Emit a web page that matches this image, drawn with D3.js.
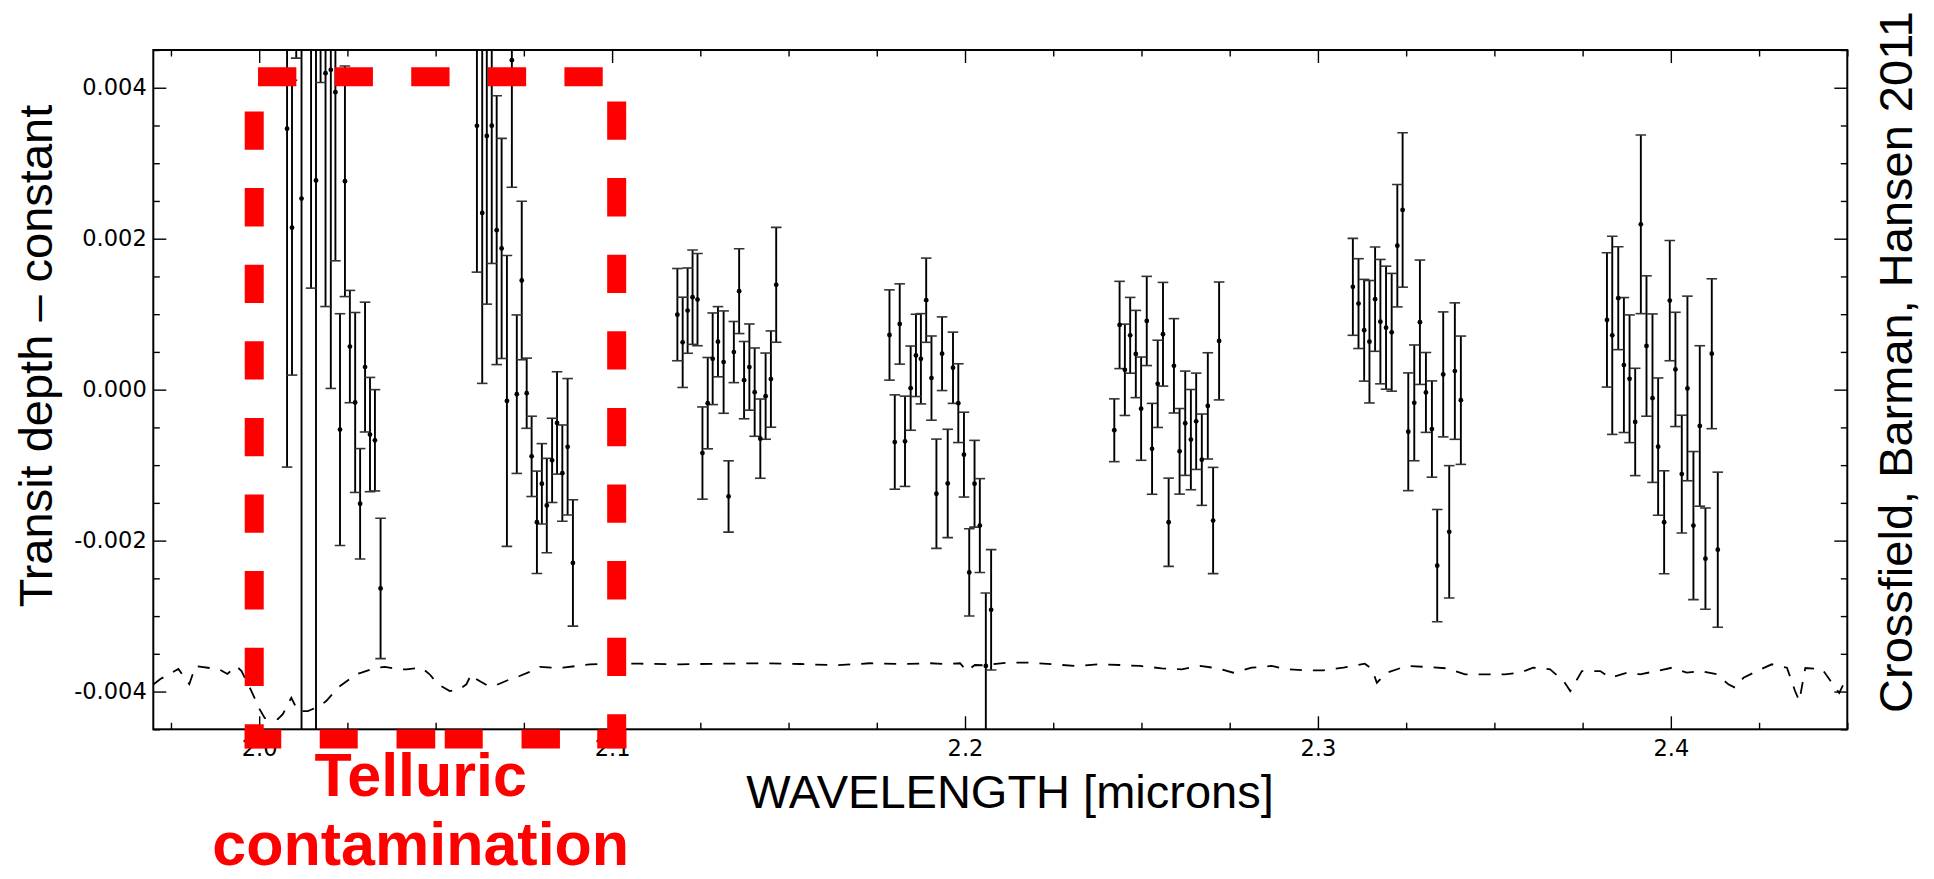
<!DOCTYPE html>
<html>
<head>
<meta charset="utf-8">
<script src="https://cdn.jsdelivr.net/npm/d3@7"></script>
<style>
  body { margin: 0; background: #fff; }
  svg { display: block; }
</style>
</head>
<body>
<svg id="chart" width="1934" height="879"></svg>
<script>
// ---- Spectral bins (wavelength in microns, transit depth minus constant, 1-sigma error) ----
const wl1 = [2.0079, 2.0093, 2.0105, 2.0120, 2.0147, 2.0161, 2.0174, 2.0188, 2.0203, 2.0216, 2.0229, 2.0243, 2.0257, 2.0272, 2.0286, 2.0300, 2.0314, 2.0328, 2.0344];
const depth1 = [0.003458, 0.002146, 0.006240, 0.002532, 0.004910, 0.002771, 0.005973, 0.004193, 0.004237, 0.003940, -0.000529, 0.002761, 0.000571, -0.000170, -0.001512, 0.000299, -0.000595, -0.000671, -0.002634];
const err1 = [0.004484, 0.001953, 0.001847, 0.007970, 0.003565, 0.007970, 0.001904, 0.003092, 0.004221, 0.002233, 0.001535, 0.001528, 0.000744, 0.001192, 0.000731, 0.000860, 0.000757, 0.000671, 0.000930];

const wl2 = [2.0617, 2.0632, 2.0645, 2.0659, 2.0673, 2.0687, 2.0702, 2.0716, 2.0730, 2.0744, 2.0758, 2.0772, 2.0787, 2.0801, 2.0815, 2.0830, 2.0844, 2.0859, 2.0874, 2.0889];
const depth2 = [0.003495, 0.002342, 0.003362, 0.003498, 0.002113, 0.001871, -0.000149, 0.004365, -0.000060, 0.001446, -0.000047, -0.000884, -0.001757, -0.001247, -0.001535, -0.000937, -0.000441, -0.001106, -0.000757, -0.002296];
const err2 = [0.001938, 0.002259, 0.002229, 0.001826, 0.001781, 0.001458, 0.001927, 0.001684, 0.001050, 0.001050, 0.000465, 0.000532, 0.000678, 0.000532, 0.000625, 0.000558, 0.000678, 0.000638, 0.000904, 0.000837];

const wl3 = [2.1185, 2.1200, 2.1214, 2.1228, 2.1242, 2.1256, 2.1271, 2.1285, 2.1300, 2.1316, 2.1330, 2.1345, 2.1360, 2.1374, 2.1389, 2.1404, 2.1420, 2.1435, 2.1450, 2.1465];
const depth3 = [0.000994, 0.000627, 0.001047, 0.001225, 0.001193, -0.000840, -0.000179, 0.000409, 0.000635, 0.000365, -0.001415, 0.000498, 0.001305, 0.000126, 0.000299, -0.000033, -0.000649, -0.000086, 0.000140, 0.001389];
const err3 = [0.000611, 0.000598, 0.000565, 0.000625, 0.000611, 0.000611, 0.000605, 0.000607, 0.000465, 0.000678, 0.000472, 0.000405, 0.000562, 0.000512, 0.000571, 0.000585, 0.000525, 0.000571, 0.000638, 0.000761];

const wl4 = [2.1786, 2.1801, 2.1815, 2.1830, 2.1846, 2.1861, 2.1875, 2.1890, 2.1905, 2.1919, 2.1935, 2.1951, 2.1966, 2.1981, 2.1997, 2.2012, 2.2027, 2.2042, 2.2059, 2.2074];
const depth4 = [0.000724, -0.000694, 0.000870, -0.000684, 0.000020, 0.000454, 0.000409, 0.001185, 0.000153, -0.001379, 0.000476, -0.001243, 0.000290, -0.000179, -0.000861, -0.002421, -0.001247, -0.001801, -0.003661, -0.002917];
const err4 = [0.000598, 0.000625, 0.000532, 0.000598, 0.000558, 0.000545, 0.000598, 0.000558, 0.000558, 0.000724, 0.000488, 0.000718, 0.000472, 0.000522, 0.000562, 0.000578, 0.000575, 0.000622, 0.000966, 0.000797];

const wl5 = [2.2423, 2.2438, 2.2453, 2.2468, 2.2484, 2.2499, 2.2515, 2.2530, 2.2546, 2.2561, 2.2577, 2.2592, 2.2608, 2.2624, 2.2640, 2.2655, 2.2671, 2.2688, 2.2703, 2.2720];
const depth5 = [-0.000538, 0.000857, 0.000263, 0.000720, 0.000472, -0.000252, 0.000910, -0.000784, 0.000077, 0.000734, -0.001757, 0.000316, -0.000817, -0.000445, -0.000662, -0.000419, -0.000928, -0.000215, -0.001734, 0.000645];
const err5 = [0.000416, 0.000578, 0.000605, 0.000502, 0.000578, 0.000684, 0.000591, 0.000602, 0.000578, 0.000687, 0.000585, 0.000625, 0.000567, 0.000691, 0.000664, 0.000638, 0.000605, 0.000704, 0.000704, 0.000781];

const wl6 = [2.3099, 2.3115, 2.3131, 2.3146, 2.3162, 2.3177, 2.3193, 2.3209, 2.3225, 2.3240, 2.3256, 2.3273, 2.3289, 2.3306, 2.3323, 2.3338, 2.3355, 2.3372, 2.3388, 2.3405];
const depth6 = [0.001362, 0.001140, 0.000787, 0.000635, 0.001199, 0.000901, 0.000821, 0.000760, 0.001907, 0.002381, -0.000558, -0.000175, 0.000893, -0.000037, -0.000522, -0.002332, 0.000202, -0.001884, 0.000246, -0.000140];
const err6 = [0.000642, 0.000595, 0.000674, 0.000811, 0.000691, 0.000824, 0.000815, 0.000780, 0.000811, 0.001023, 0.000780, 0.000767, 0.000824, 0.000529, 0.000638, 0.000744, 0.000828, 0.000877, 0.000904, 0.000850];

const wl7 = [2.3819, 2.3834, 2.3851, 2.3867, 2.3883, 2.3899, 2.3915, 2.3931, 2.3948, 2.3964, 2.3981, 2.3997, 2.4013, 2.4031, 2.4047, 2.4064, 2.4082, 2.4098, 2.4116, 2.4133];
const depth7 = [0.000924, 0.000720, 0.001212, 0.000326, 0.000144, -0.000428, 0.002190, 0.000578, -0.000113, -0.000755, -0.001757, 0.001180, 0.000268, -0.001119, 0.000016, -0.001801, -0.000481, -0.002239, 0.000476, -0.002120];
const err7 = [0.000890, 0.001313, 0.000682, 0.000894, 0.000846, 0.000711, 0.001183, 0.000930, 0.001116, 0.000910, 0.000682, 0.000797, 0.000757, 0.000780, 0.001223, 0.000981, 0.001063, 0.000671, 0.000993, 0.001027];

// ---- Telluric transmission model, shifted to sit under the data (dashed curve) ----
const modelWl = [1.9701, 1.9720, 1.9771, 1.9802, 1.9820, 1.9860, 1.9885, 1.9910, 1.9935, 1.9950, 1.9978, 2.0001, 2.0016, 2.0053, 2.0067, 2.0091, 2.0110, 2.0138, 2.0171, 2.0190, 2.0223, 2.0242, 2.0276, 2.0290, 2.0332, 2.0356, 2.0398, 2.0417, 2.0460, 2.0483, 2.0507, 2.0540, 2.0568, 2.0587, 2.0601, 2.0616, 2.0649, 2.0672, 2.0710, 2.0738, 2.0772, 2.0795, 2.0833, 2.0861, 2.0899, 2.0937, 2.0984, 2.1079, 2.1192, 2.1305, 2.1419, 2.1532, 2.1636, 2.1730, 2.1830, 2.1901, 2.1948, 2.1986, 2.2005, 2.2028, 2.2052, 2.2118, 2.2184, 2.2249, 2.2316, 2.2377, 2.2439, 2.2496, 2.2557, 2.2614, 2.2666, 2.2717, 2.2760, 2.2812, 2.2869, 2.2912, 2.2963, 2.3015, 2.3072, 2.3133, 2.3153, 2.3167, 2.3195, 2.3252, 2.3308, 2.3365, 2.3417, 2.3478, 2.3530, 2.3573, 2.3610, 2.3658, 2.3696, 2.3715, 2.3748, 2.3800, 2.3828, 2.3875, 2.3913, 2.3960, 2.4003, 2.4045, 2.4083, 2.4130, 2.4163, 2.4182, 2.4206, 2.4244, 2.4286, 2.4329, 2.4352, 2.4364, 2.4381, 2.4429, 2.4466, 2.4477, 2.4500];
const modelDepth = [-0.003904, -0.003834, -0.003701, -0.003900, -0.003661, -0.003688, -0.003701, -0.003767, -0.003661, -0.003728, -0.003993, -0.004233, -0.004352, -0.004365, -0.004299, -0.004082, -0.004259, -0.004259, -0.004193, -0.004126, -0.003949, -0.003883, -0.003767, -0.003750, -0.003684, -0.003674, -0.003705, -0.003705, -0.003684, -0.003771, -0.003904, -0.003993, -0.003971, -0.003904, -0.003771, -0.003838, -0.003927, -0.003914, -0.003838, -0.003794, -0.003728, -0.003674, -0.003684, -0.003684, -0.003661, -0.003639, -0.003631, -0.003631, -0.003639, -0.003631, -0.003625, -0.003635, -0.003652, -0.003625, -0.003635, -0.003625, -0.003635, -0.003625, -0.003728, -0.003648, -0.003652, -0.003617, -0.003617, -0.003639, -0.003661, -0.003639, -0.003648, -0.003661, -0.003692, -0.003705, -0.003661, -0.003692, -0.003750, -0.003684, -0.003661, -0.003705, -0.003718, -0.003718, -0.003684, -0.003631, -0.003701, -0.003883, -0.003750, -0.003661, -0.003674, -0.003692, -0.003771, -0.003771, -0.003771, -0.003750, -0.003684, -0.003705, -0.003860, -0.003993, -0.003728, -0.003728, -0.003817, -0.003750, -0.003771, -0.003728, -0.003684, -0.003750, -0.003728, -0.003771, -0.003904, -0.003949, -0.003817, -0.003728, -0.003639, -0.003684, -0.003993, -0.004126, -0.003688, -0.003705, -0.003949, -0.004020, -0.003794];

// ---- Axis ticks ----
const xMajorTicks = [2.0, 2.1, 2.2, 2.3, 2.4];
const xMinorTicks = [1.975, 2.025, 2.05, 2.075, 2.125, 2.15, 2.175, 2.225, 2.25, 2.275, 2.325, 2.35, 2.375, 2.425, 2.45];
const yMajorTicks = [-0.004, -0.002, 0.000, 0.002, 0.004];
const yMinorTicks = [-0.0045, -0.0035, -0.003, -0.0025, -0.0015, -0.001, -0.0005, 0.0005, 0.001, 0.0015, 0.0025, 0.003, 0.0035, 0.0045];

// ---- Text ----
const xTitle = "WAVELENGTH [microns]";
const yTitle = "Transit depth \u2013 constant";
const credit = "Crossfield, Barman, Hansen 2011";
const noteLines = ["Telluric", "contamination"];
// Wavelength / depth corners of the highlighted telluric window
const telluricWindow = { wlStart: 1.9986, wlEnd: 2.1013, depthTop: 0.004146, depthBottom: -0.00463 };

// ---- Layout ----
const plotLeft = 153.3, plotRight = 1847.3, plotTop = 50, plotBottom = 729.3;
const svg = d3.select("#chart");

const x = d3.scaleLinear().domain([1.97, 2.45]).range([plotLeft, plotRight]);
const y = d3.scaleLinear().domain([-0.0045, 0.0045]).range([plotBottom, plotTop]);

svg.append("defs").append("clipPath").attr("id", "plotClip")
  .append("rect")
  .attr("x", plotLeft).attr("y", plotTop)
  .attr("width", plotRight - plotLeft).attr("height", plotBottom - plotTop);

// ---- Axes with inward ticks on all four sides ----
const tickFont = "DejaVu Sans, Verdana, sans-serif";
const majorLen = 13, minorLen = 6.5;

function styleAxis(g) {
  g.select(".domain").remove();
  g.selectAll(".tick line").attr("stroke", "#000").attr("stroke-width", 1.4);
  g.selectAll(".tick text").attr("fill", "#000").style("font-family", tickFont).style("font-size", "22.5px");
}

svg.append("g").attr("transform", `translate(0,${plotBottom})`)
  .call(d3.axisBottom(x).tickValues(xMajorTicks).tickSize(-majorLen).tickPadding(11).tickFormat(d3.format(".1f")))
  .call(styleAxis);
svg.append("g").attr("transform", `translate(0,${plotBottom})`)
  .call(d3.axisBottom(x).tickValues(xMinorTicks).tickSize(-minorLen).tickFormat(""))
  .call(styleAxis);
svg.append("g").attr("transform", `translate(0,${plotTop})`)
  .call(d3.axisTop(x).tickValues(xMajorTicks).tickSize(-majorLen).tickFormat(""))
  .call(styleAxis);
svg.append("g").attr("transform", `translate(0,${plotTop})`)
  .call(d3.axisTop(x).tickValues(xMinorTicks).tickSize(-minorLen).tickFormat(""))
  .call(styleAxis);

svg.append("g").attr("transform", `translate(${plotLeft},0)`)
  .call(d3.axisLeft(y).tickValues(yMajorTicks).tickSize(-majorLen).tickPadding(6.6).tickFormat(d => d.toFixed(3)))
  .call(styleAxis);
svg.append("g").attr("transform", `translate(${plotLeft},0)`)
  .call(d3.axisLeft(y).tickValues(yMinorTicks).tickSize(-minorLen).tickFormat(""))
  .call(styleAxis);
svg.append("g").attr("transform", `translate(${plotRight},0)`)
  .call(d3.axisRight(y).tickValues(yMajorTicks).tickSize(-majorLen).tickFormat(""))
  .call(styleAxis);
svg.append("g").attr("transform", `translate(${plotRight},0)`)
  .call(d3.axisRight(y).tickValues(yMinorTicks).tickSize(-minorLen).tickFormat(""))
  .call(styleAxis);

// ---- Plot contents ----
const plot = svg.append("g").attr("clip-path", "url(#plotClip)");

const modelPts = modelWl.map((w, i) => [w, modelDepth[i]]);
plot.append("path")
  .attr("d", d3.line().x(d => x(d[0])).y(d => y(d[1]))(modelPts))
  .attr("fill", "none")
  .attr("stroke", "#000")
  .attr("stroke-width", 1.8)
  .attr("stroke-dasharray", "12,11");

const bins = [
  [wl1, depth1, err1], [wl2, depth2, err2], [wl3, depth3, err3], [wl4, depth4, err4],
  [wl5, depth5, err5], [wl6, depth6, err6], [wl7, depth7, err7]
].flatMap(([w, d, e]) => w.map((v, i) => ({ wl: v, depth: d[i], err: e[i] })));

const capHalf = 5.3;
const bars = plot.append("g");
bars.selectAll("line.stem").data(bins).join("line").attr("class", "stem")
  .attr("x1", d => x(d.wl)).attr("x2", d => x(d.wl))
  .attr("y1", d => y(d.depth + d.err)).attr("y2", d => y(d.depth - d.err))
  .attr("stroke", "#000").attr("stroke-width", 1.9);
bars.selectAll("line.capTop").data(bins).join("line").attr("class", "capTop")
  .attr("x1", d => x(d.wl) - capHalf).attr("x2", d => x(d.wl) + capHalf)
  .attr("y1", d => y(d.depth + d.err)).attr("y2", d => y(d.depth + d.err))
  .attr("stroke", "#333").attr("stroke-width", 1.6);
bars.selectAll("line.capBottom").data(bins).join("line").attr("class", "capBottom")
  .attr("x1", d => x(d.wl) - capHalf).attr("x2", d => x(d.wl) + capHalf)
  .attr("y1", d => y(d.depth - d.err)).attr("y2", d => y(d.depth - d.err))
  .attr("stroke", "#333").attr("stroke-width", 1.6);
bars.selectAll("circle").data(bins).join("circle")
  .attr("cx", d => x(d.wl)).attr("cy", d => y(d.depth)).attr("r", 2.4)
  .attr("fill", "#000");

// ---- Frame ----
svg.append("rect")
  .attr("x", plotLeft).attr("y", plotTop)
  .attr("width", plotRight - plotLeft).attr("height", plotBottom - plotTop)
  .attr("fill", "none").attr("stroke", "#000").attr("stroke-width", 2);

// ---- Titles ----
const titleFont = "Liberation Sans, Arial, Helvetica, sans-serif";
svg.append("text")
  .attr("x", 1010).attr("y", 808)
  .attr("text-anchor", "middle")
  .style("font-family", titleFont).style("font-size", "47px")
  .text(xTitle);
svg.append("text")
  .attr("transform", "translate(51.7,356) rotate(-90)")
  .attr("text-anchor", "middle")
  .style("font-family", titleFont).style("font-size", "47px")
  .text(yTitle);
svg.append("text")
  .attr("transform", "translate(1912,362) rotate(-90)")
  .attr("text-anchor", "middle")
  .style("font-family", titleFont).style("font-size", "47px")
  .text(credit);

// ---- Highlighted telluric window (thick red dashed outline) ----
const bx0 = x(telluricWindow.wlStart), bx1 = x(telluricWindow.wlEnd);
const by0 = y(telluricWindow.depthTop), by1 = y(telluricWindow.depthBottom);
const red = "#ff0000", bandW = 19;
const box = svg.append("g").attr("fill", "none").attr("stroke", red).attr("stroke-width", bandW);
box.append("line").attr("x1", bx0 + 3.8).attr("y1", by0).attr("x2", bx1).attr("y2", by0)
  .attr("stroke-dasharray", "38.3,38.3");
box.append("line").attr("x1", bx1).attr("y1", by0 + 24.8).attr("x2", bx1).attr("y2", by1 + 9.2)
  .attr("stroke-dasharray", "38.3,38.3");
box.append("line").attr("x1", bx0).attr("y1", by0 + 34.8).attr("x2", bx0).attr("y2", by1 + 9.2)
  .attr("stroke-dasharray", "38.3,38.3");
box.append("line").attr("x1", bx0 - 9.5).attr("y1", by1).attr("x2", bx1 + 9.7).attr("y2", by1)
  .attr("stroke-dasharray", "36.5,38.5,38,38.8,38.7,9.5,38,38.8,38.4,37.3,30,200");

svg.append("g")
  .selectAll("text").data(noteLines).join("text")
  .attr("x", 420.7)
  .attr("y", (d, i) => 796 + i * 69)
  .attr("text-anchor", "middle")
  .attr("fill", red)
  .style("font-family", titleFont).style("font-size", "61px").style("font-weight", "bold")
  .text(d => d);
</script>
</body>
</html>
